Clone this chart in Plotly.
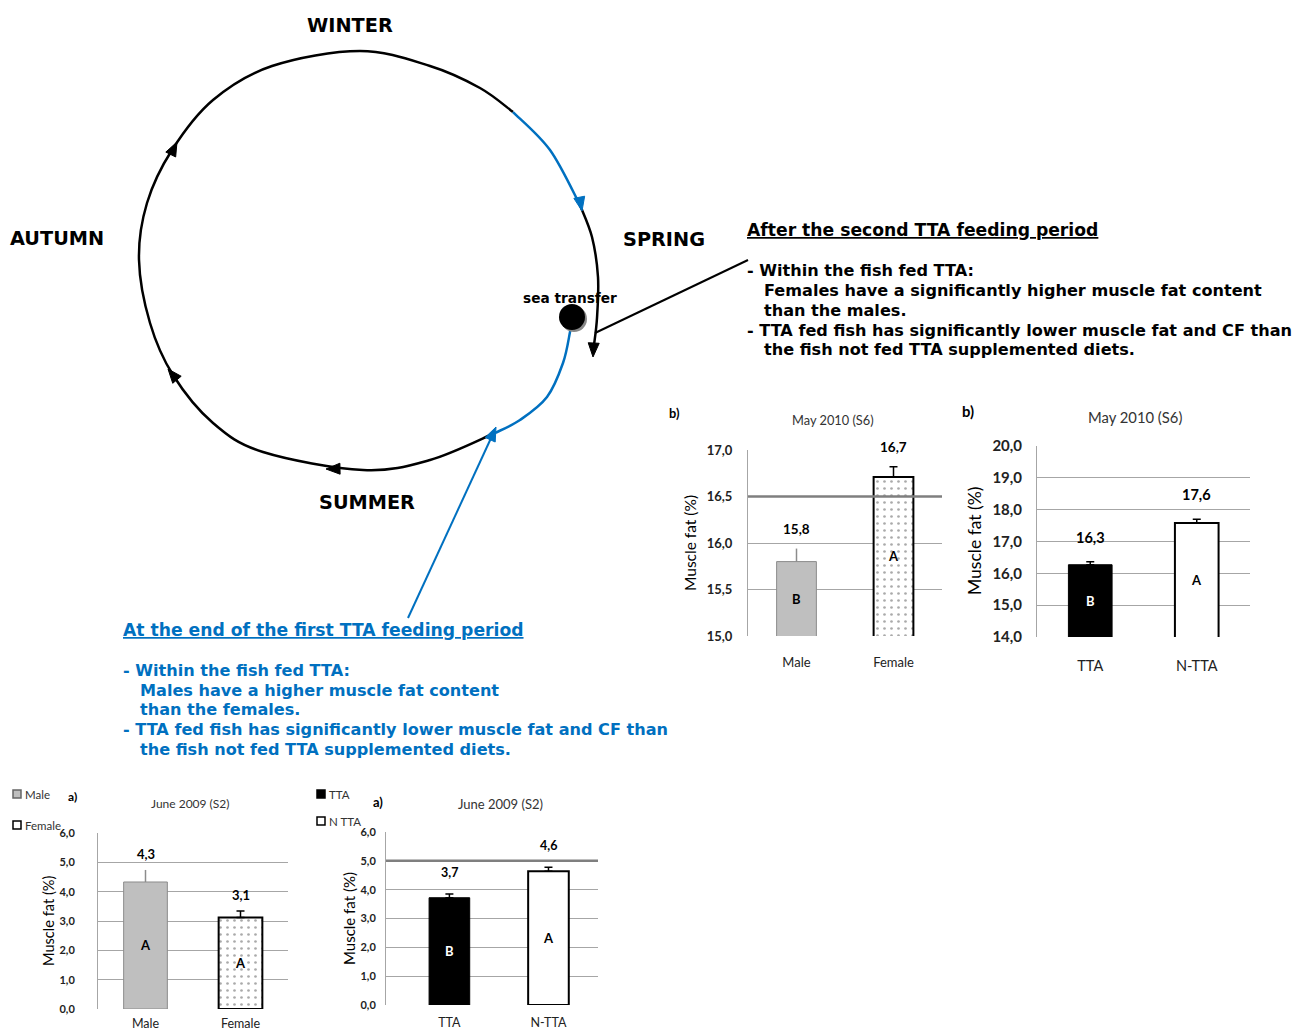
import numpy as np
import plotly.graph_objects as go

W, H = 1311, 1032

# ---------------- data ----------------
may_sex_cats = ["Male", "Female"]
may_sex_vals = [15.8, 16.71]
may_sex_err = [0.14, 0.11]
may_sex_letters = ["B", "A"]
may_sex_ticks = [15.0, 15.5, 16.0, 16.5, 17.0]

may_diet_cats = ["TTA", "N-TTA"]
may_diet_vals = [16.27, 17.58]
may_diet_err = [0.09, 0.12]
may_diet_letters = ["B", "A"]
may_diet_ticks = [14.0, 15.0, 16.0, 17.0, 18.0, 19.0, 20.0]

june_sex_cats = ["Male", "Female"]
june_sex_vals = [4.33, 3.12]
june_sex_err = [0.41, 0.22]
june_sex_letters = ["A", "A"]
june_sex_ticks = [0.0, 1.0, 2.0, 3.0, 4.0, 5.0, 6.0]

june_diet_cats = ["TTA", "N-TTA"]
june_diet_vals = [3.72, 4.64]
june_diet_err = [0.13, 0.14]
june_diet_letters = ["B", "A"]
june_diet_ticks = [0.0, 1.0, 2.0, 3.0, 4.0, 5.0, 6.0]

seasons = ["WINTER", "SPRING", "SUMMER", "AUTUMN"]

second_period_title = "After the second TTA feeding period"
second_period_lines = [
    "- Within the fish fed TTA:",
    "Females have a significantly higher muscle fat content",
    "than the males.",
    "- TTA fed fish has significantly lower muscle fat and CF than",
    "the fish not fed TTA supplemented diets.",
]
first_period_title = "At the end of the first TTA feeding period"
first_period_lines = [
    "- Within the fish fed TTA:",
    "Males have a higher muscle fat content",
    "than the females.",
    "- TTA fed fish has significantly lower muscle fat and CF than",
    "the fish not fed TTA supplemented diets.",
]

# ---------------- helpers ----------------
def px(x):
    return x / W


def py(y):
    return 1 - y / H


def pt(p):
    return f"{px(p[0]):.5f},{py(p[1]):.5f}"


def fmt(v):
    return f"{v:.1f}".replace(".", ",")


BLUE = "#0070C0"
TXT_FONT = "DejaVu Sans"
CH_FONT = "Lato"

fig = go.Figure()


def txt(x, y, s, size, color="black", bold=True, xanchor="center",
        family=TXT_FONT, angle=0, yanchor="middle"):
    fig.add_annotation(
        x=px(x), y=py(y), xref="paper", yref="paper", text=s,
        showarrow=False, xanchor=xanchor, yanchor=yanchor, textangle=angle,
        borderpad=0,
        font=dict(family=family, size=size, color=color,
                  weight="bold" if bold else "normal"))


def cr_path(pts):
    P = [np.array(p, float) for p in pts]
    P = [P[0]] + P + [P[-1]]
    d = "M " + pt(P[1])
    for i in range(1, len(P) - 2):
        p0, p1, p2, p3 = P[i - 1], P[i], P[i + 1], P[i + 2]
        c1 = p1 + (p2 - p0) / 6
        c2 = p2 - (p3 - p1) / 6
        d += " C " + pt(c1) + " " + pt(c2) + " " + pt(p2)
    return d


def curve(pts, color, width=2.5):
    fig.add_shape(type="path", path=cr_path(pts), xref="paper", yref="paper",
                  line=dict(color=color, width=width), layer="above")


def arrowhead(tip, direction, color, L=14, Wd=11):
    d = np.array(direction, float)
    d = d / np.linalg.norm(d)
    tip = np.array(tip, float)
    base = tip - d * L
    n = np.array([-d[1], d[0]])
    b1 = base + n * Wd / 2
    b2 = base - n * Wd / 2
    path = "M " + pt(tip) + " L " + pt(b1) + " L " + pt(b2) + " Z"
    fig.add_shape(type="path", path=path, xref="paper", yref="paper",
                  fillcolor=color, line=dict(color=color, width=1), layer="above")


def line(p0, p1, color, width=2):
    fig.add_shape(type="line", xref="paper", yref="paper",
                  x0=px(p0[0]), y0=py(p0[1]), x1=px(p1[0]), y1=py(p1[1]),
                  line=dict(color=color, width=width), layer="above")


# ---------------- seasonal cycle diagram ----------------
main_arc = [(495, 433), (430, 460), (363, 470), (263, 452), (213, 423), (173, 375),
            (150, 323), (139, 260), (147, 203), (172, 150), (213, 100), (272, 66),
            (360, 51), (430, 66), (480, 88), (513, 112)]
blue_top = [(513, 112), (550, 150), (580, 205)]
right_arc = [(580, 205), (592, 237), (598, 277), (597, 318), (594, 345)]
blue_low = [(572, 318), (570, 332), (563, 363), (547, 397), (520, 420), (495, 433)]

curve(main_arc, "black")
curve(blue_top, BLUE)
curve(right_arc, "black")
curve(blue_low, BLUE)

arrowhead((177, 142), (0.5, -1.0), "black")
arrowhead((168, 369), (-0.64, -0.77), "black")
arrowhead((326, 469), (-1.0, 0.02), "black")
arrowhead((582, 211), (0.2, 1.0), BLUE)
arrowhead((593, 357), (-0.05, 1.0), "black")

# pointer lines
line((595, 333), (748, 260), "black", 2)
line((408, 618), (492, 436), BLUE, 2)
arrowhead((496, 427), (87, -190), BLUE)

# sea transfer dot
fig.add_shape(type="circle", xref="paper", yref="paper",
              x0=px(561), x1=px(587), y0=py(332), y1=py(306),
              fillcolor="#888888", line=dict(width=0), layer="above")
fig.add_shape(type="circle", xref="paper", yref="paper",
              x0=px(559), x1=px(585), y0=py(330), y1=py(304),
              fillcolor="black", line=dict(width=0), layer="above")
txt(570, 298, "sea transfer", 13.7)

season_pos = {"WINTER": (350, 25), "SPRING": (664, 240),
              "SUMMER": (367, 502), "AUTUMN": (57, 239)}
for s in seasons:
    txt(season_pos[s][0], season_pos[s][1], s, 19.3)

# text blocks
txt(746, 230, "<u>" + second_period_title + "</u>", 17.2, xanchor="left")
ys2 = [270, 290, 310, 330, 350]
for i, s in enumerate(second_period_lines):
    x0 = 746 if s.startswith("-") else 763
    txt(x0, ys2[i], s, 16.1, xanchor="left")

txt(122, 630, "<u>" + first_period_title + "</u>", 17.2, color=BLUE, xanchor="left")
ys1 = [670, 690, 709, 729, 749]
for i, s in enumerate(first_period_lines):
    x0 = 122 if s.startswith("-") else 139
    txt(x0, ys1[i], s, 16.1, color=BLUE, xanchor="left")

# ---------------- bar charts ----------------
SEX_M = dict(fill="#BFBFBF", lc="#8C8C8C", lw=1, pattern=False, ec="#8C8C8C", cap=0, letter="black")
SEX_F = dict(fill="white", lc="black", lw=2, pattern=True, ec="black", cap=4, letter="black")
DIET_T = dict(fill="black", lc="black", lw=1, pattern=False, ec="black", cap=4, letter="white")
DIET_N = dict(fill="white", lc="black", lw=2, pattern=False, ec="black", cap=4, letter="black")

panels = [
    dict(cats=may_sex_cats, vals=may_sex_vals, err=may_sex_err, letters=may_sex_letters,
         ticks=may_sex_ticks, xd=(748, 942), yd=(450, 636), xr=[-0.5, 1.5],
         styles=[SEX_M, SEX_F], hl=16.5, shift=14, bw=0.41,
         title="May 2010 (S6)", title_xy=(833, 420), title_size=12.8,
         tag="b)", tag_xy=(674, 413), yt_xy=(690, 543), yt_size=15.5,
         tick_size=13, ytlen=12, xlab_size=13, xgap=14, val_size=13.5),
    dict(cats=may_diet_cats, vals=may_diet_vals, err=may_diet_err, letters=may_diet_letters,
         ticks=may_diet_ticks, xd=(1037, 1250), yd=(446, 637), xr=[-0.5, 1.5],
         styles=[DIET_T, DIET_N], hl=None, shift=18, bw=0.41,
         title="May 2010 (S6)", title_xy=(1135, 417), title_size=14.8,
         tag="b)", tag_xy=(968, 411), yt_xy=(974, 541), yt_size=17.5,
         tick_size=15, ytlen=11, xlab_size=14.5, xgap=16, val_size=14.5),
    dict(cats=june_sex_cats, vals=june_sex_vals, err=june_sex_err, letters=june_sex_letters,
         ticks=june_sex_ticks, xd=(98, 288), yd=(833, 1009), xr=[-0.5, 1.5],
         styles=[SEX_M, SEX_F], hl=None, shift=10, bw=0.46,
         title="June 2009 (S2)", title_xy=(190, 803), title_size=12,
         tag="a)", tag_xy=(72, 796), yt_xy=(48, 921), yt_size=14.6,
         tick_size=11, ytlen=20, xlab_size=12.5, xgap=3, val_size=13),
    dict(cats=june_diet_cats, vals=june_diet_vals, err=june_diet_err, letters=june_diet_letters,
         ticks=june_diet_ticks, xd=(386, 598), yd=(832, 1005), xr=[-0.64, 1.5],
         styles=[DIET_T, DIET_N], hl=5.0, shift=16, bw=0.41,
         title="June 2009 (S2)", title_xy=(500, 804), title_size=13,
         tag="a)", tag_xy=(378, 802), yt_xy=(349, 918), yt_size=15,
         tick_size=11, ytlen=7, xlab_size=12.5, xgap=6, val_size=12.5),
]

layout_axes = {}
for k, p in enumerate(panels, start=1):
    xa = "x" if k == 1 else f"x{k}"
    ya = "y" if k == 1 else f"y{k}"
    ymin = p["ticks"][0]
    for i, c in enumerate(p["cats"]):
        st = p["styles"][i]
        marker = dict(color=st["fill"], line=dict(color=st["lc"], width=st["lw"]))
        if st["pattern"]:
            marker["pattern"] = dict(shape=".", size=7, solidity=0.12,
                                     fgcolor="#555555", bgcolor="white")
        fig.add_trace(go.Bar(
            x=[c], y=[p["vals"][i]], width=p["bw"], marker=marker,
            xaxis=xa, yaxis=ya, showlegend=False, hoverinfo="skip",
            error_y=dict(type="data", symmetric=False, array=[p["err"][i]],
                         arrayminus=[0], color=st["ec"], thickness=1.5,
                         width=st["cap"])))
        fig.add_annotation(x=c, y=p["vals"][i] + p["err"][i], xref=xa, yref=ya,
                           text=fmt(p["vals"][i]), showarrow=False, yanchor="bottom",
                           yshift=p["shift"] - 4,
                           font=dict(family=CH_FONT, size=p["val_size"], color="black",
                                     weight="bold"))
        fig.add_annotation(x=c, y=(ymin + p["vals"][i]) / 2, xref=xa, yref=ya,
                           text=p["letters"][i], showarrow=False,
                           font=dict(family=CH_FONT, size=13, color=st["letter"], weight="bold"))
    if p["hl"] is not None:
        fig.add_shape(type="line", xref=f"{xa} domain", yref=ya, x0=0, x1=1,
                      y0=p["hl"], y1=p["hl"], line=dict(color="#7F7F7F", width=2.5))
    layout_axes["xaxis" if k == 1 else f"xaxis{k}"] = dict(
        domain=[px(p["xd"][0]), px(p["xd"][1])], range=p["xr"], type="category",
        anchor=ya, showgrid=False, showline=False, zeroline=False, automargin=False,
        ticks="outside", ticklen=p["xgap"], tickcolor="rgba(0,0,0,0)",
        tickfont=dict(family=CH_FONT, size=p["xlab_size"], color="#222222"),
        fixedrange=True)
    layout_axes["yaxis" if k == 1 else f"yaxis{k}"] = dict(
        domain=[py(p["yd"][1]), py(p["yd"][0])],
        range=[p["ticks"][0], p["ticks"][-1]], anchor=xa, automargin=False,
        tickvals=p["ticks"], ticktext=[fmt(t) for t in p["ticks"]],
        showgrid=True, gridcolor="#A6A6A6", gridwidth=1,
        showline=True, linecolor="#A6A6A6", linewidth=1, zeroline=False,
        ticks="outside", ticklen=p["ytlen"], tickcolor="rgba(0,0,0,0)",
        tickfont=dict(family=CH_FONT, size=p["tick_size"], color="#222222", weight="bold"),
        fixedrange=True)
    txt(p["title_xy"][0], p["title_xy"][1], p["title"], p["title_size"],
        color="#333333", bold=False, family=CH_FONT)
    txt(p["tag_xy"][0], p["tag_xy"][1], p["tag"], p["title_size"], family=CH_FONT)
    txt(p["yt_xy"][0], p["yt_xy"][1], "Muscle fat (%)", p["yt_size"],
        bold=False, family=CH_FONT, angle=-90)

# legends for bottom charts
def legend_item(x, y, label, fill, border, size):
    fig.add_shape(type="rect", xref="paper", yref="paper",
                  x0=px(x - 4), x1=px(x + 4), y0=py(y + 4), y1=py(y - 4),
                  fillcolor=fill, line=dict(color=border, width=1.5))
    txt(x + 7, y, label, size, color="#333333", bold=False, family=CH_FONT, xanchor="left")

legend_item(17, 794, june_sex_cats[0], "#BFBFBF", "#666666", 11.5)
legend_item(17, 825, june_sex_cats[1], "white", "black", 11.5)
legend_item(321, 794, june_diet_cats[0], "black", "black", 11.5)
legend_item(321, 821, "N TTA", "white", "black", 11.5)

fig.update_layout(
    width=W, height=H, margin=dict(l=0, r=0, t=0, b=0, pad=0, autoexpand=False),
    paper_bgcolor="white", plot_bgcolor="white",
    barmode="overlay", showlegend=False, **layout_axes)

fig.write_html("out.html")
